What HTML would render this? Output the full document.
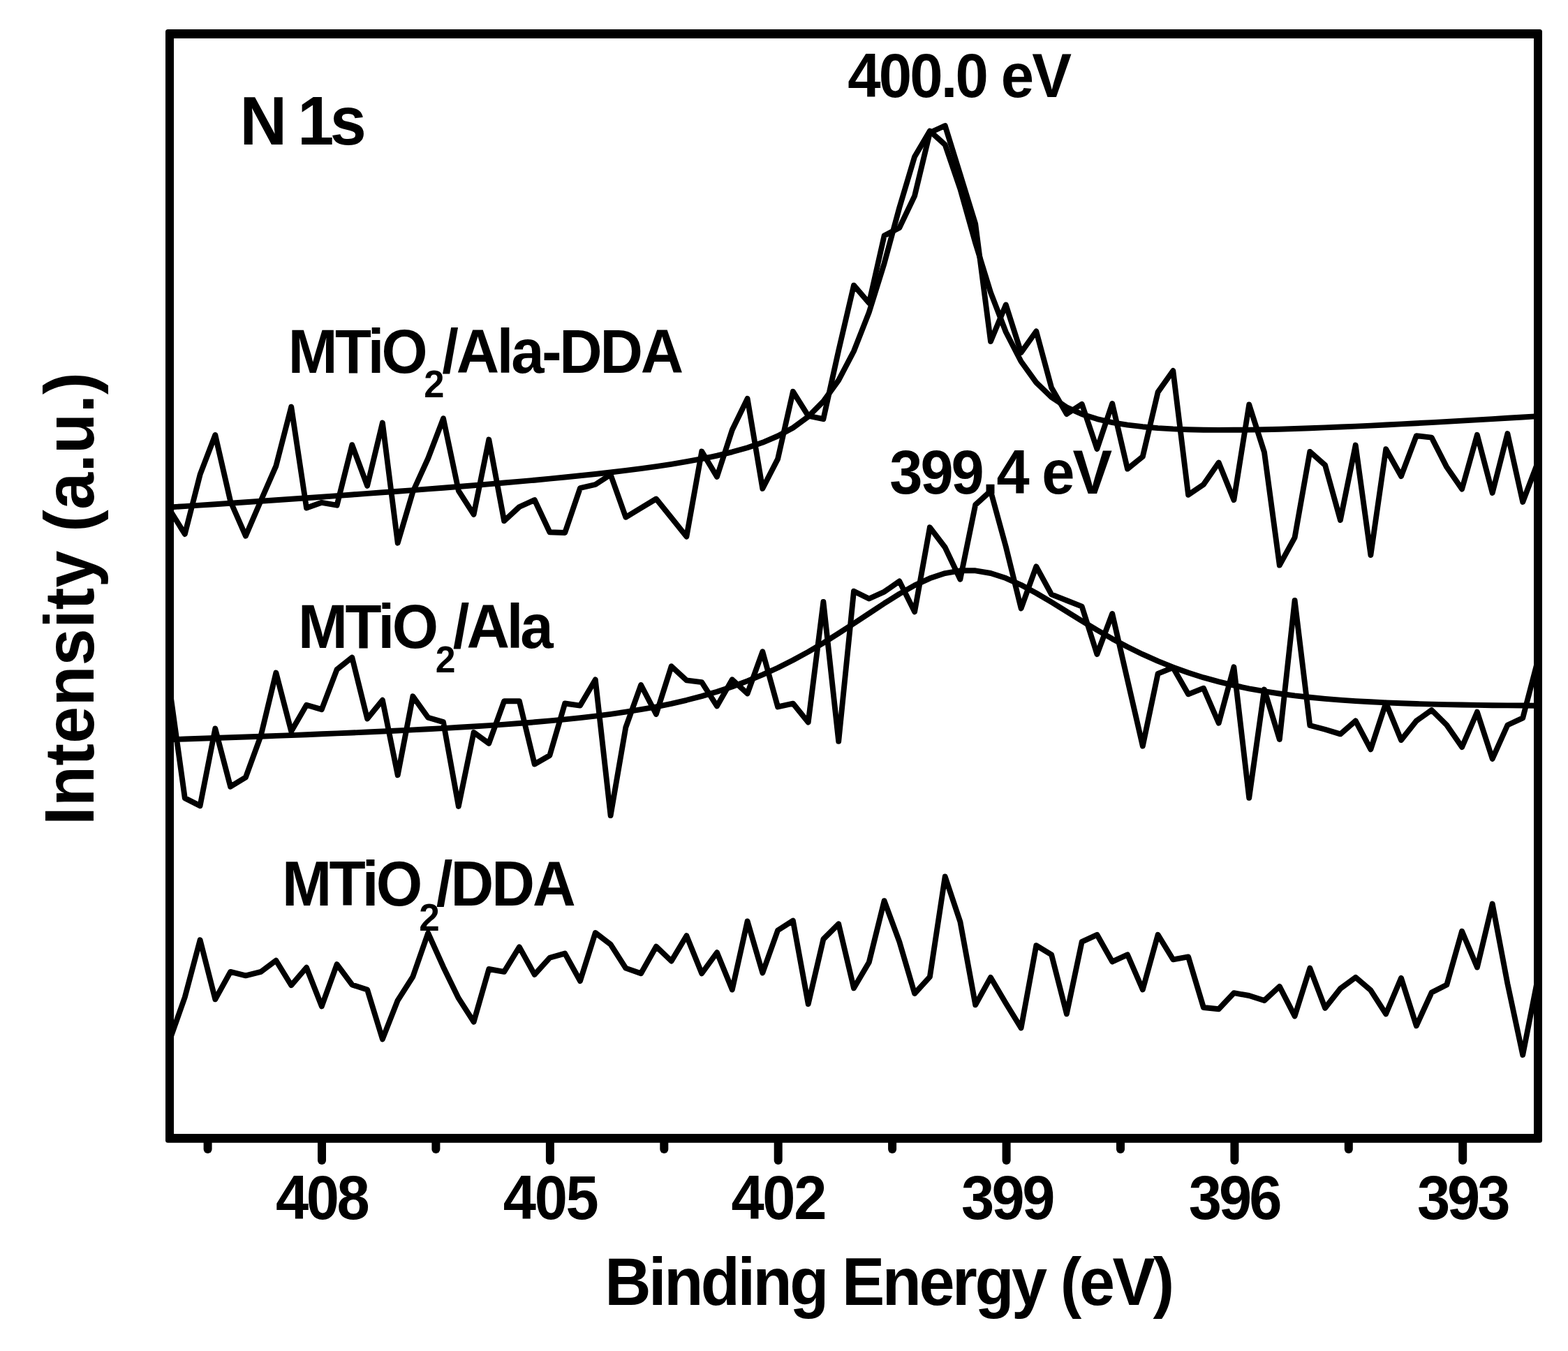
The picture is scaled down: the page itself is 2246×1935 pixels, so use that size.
<!DOCTYPE html><html><head><meta charset="utf-8"><title>N 1s XPS</title><style>html,body{margin:0;padding:0;background:#fff}svg{display:block}</style></head><body>
<svg width="2246" height="1935" viewBox="0 0 2246 1935">
<rect width="2246" height="1935" fill="#fff"/>
<rect x="237" y="42" width="1972" height="1594.7" rx="3.5" fill="#000"/>
<rect x="249" y="55" width="1948" height="1569" fill="#fff"/>
<g fill="none" stroke="#000" stroke-width="7.9" stroke-linejoin="round" stroke-linecap="round">
<polyline points="243.0,730.0 264.8,765.0 286.6,679.7 308.3,623.0 330.1,718.0 351.9,767.7 373.7,717.0 395.4,667.3 417.2,582.7 439.0,727.5 460.8,719.8 482.6,723.7 504.3,637.2 526.1,695.9 547.9,605.5 569.7,777.7 591.4,704.4 613.2,656.5 635.0,599.3 656.8,702.8 678.6,736.8 700.3,629.5 722.1,746.1 743.9,726.0 765.7,716.0 787.4,762.3 809.2,763.0 831.0,699.0 852.8,694.0 874.6,679.8 896.3,740.8 918.1,727.6 939.9,714.5 961.7,741.5 983.4,768.6 1005.2,646.6 1027.0,682.9 1048.8,615.7 1070.6,570.9 1092.3,699.8 1114.1,657.4 1135.9,560.8 1157.7,595.6 1179.4,600.2 1201.2,502.0 1223.0,408.7 1244.8,434.0 1266.6,337.5 1288.3,326.3 1310.1,280.6 1331.9,190.0 1353.7,180.0 1375.4,250.0 1397.2,320.7 1419.0,489.0 1440.8,436.5 1462.6,505.0 1484.3,474.5 1506.1,555.3 1527.9,593.0 1549.7,578.8 1571.4,643.1 1593.2,578.0 1615.0,671.6 1636.8,654.0 1658.6,561.6 1680.3,531.0 1702.1,708.8 1723.9,694.0 1745.7,662.6 1767.4,716.2 1789.2,579.5 1811.0,647.8 1832.8,809.6 1854.6,769.8 1876.3,646.9 1898.1,666.3 1919.9,744.9 1941.7,637.5 1963.4,795.0 1985.2,643.2 2007.0,682.0 2028.8,624.2 2050.6,626.6 2072.3,669.1 2094.1,700.5 2115.9,622.9 2137.7,706.0 2159.4,621.0 2181.2,719.0 2203.0,661.7"/>
<polyline points="243.0,726.5 264.8,725.1 286.6,723.6 308.3,722.2 330.1,720.7 351.9,719.2 373.7,717.7 395.4,716.2 417.2,714.7 439.0,713.2 460.8,711.7 482.6,710.1 504.3,708.5 526.1,706.9 547.9,705.3 569.7,703.7 591.4,702.1 613.2,700.4 635.0,698.7 656.8,697.0 678.6,695.2 700.3,693.4 722.1,691.5 743.9,689.6 765.7,687.7 787.4,685.6 809.2,683.5 831.0,681.3 852.8,679.0 874.6,676.5 896.3,673.9 918.1,671.1 939.9,668.1 961.7,664.8 983.4,661.2 1005.2,657.2 1027.0,652.6 1048.8,647.3 1070.6,641.2 1092.3,633.8 1114.1,624.5 1135.9,612.7 1157.7,596.8 1179.4,574.9 1201.2,544.6 1223.0,503.0 1244.8,447.4 1266.6,377.3 1288.3,297.4 1310.1,224.4 1331.9,187.6 1353.7,207.3 1375.4,270.7 1397.2,348.1 1419.0,418.9 1440.8,475.5 1462.6,517.8 1484.3,547.9 1506.1,568.9 1527.9,583.3 1549.7,593.2 1571.4,600.1 1593.2,605.1 1615.0,608.7 1636.8,611.2 1658.6,613.1 1680.3,614.4 1702.1,615.2 1723.9,615.7 1745.7,615.9 1767.4,615.8 1789.2,615.6 1811.0,615.2 1832.8,614.7 1854.6,614.0 1876.3,613.3 1898.1,612.4 1919.9,611.5 1941.7,610.6 1963.4,609.6 1985.2,608.5 2007.0,607.4 2028.8,606.2 2050.6,605.1 2072.3,603.9 2094.1,602.6 2115.9,601.4 2137.7,600.1 2159.4,598.8 2181.2,597.5 2203.0,596.1"/>
<polyline points="243.0,986.0 264.8,1143.1 286.6,1154.1 308.3,1043.5 330.1,1126.7 351.9,1113.3 373.7,1053.7 395.4,963.5 417.2,1047.5 439.0,1009.8 460.8,1016.1 482.6,958.8 504.3,941.6 526.1,1029.4 547.9,1002.7 569.7,1110.2 591.4,997.3 613.2,1027.8 635.0,1034.1 656.8,1154.9 678.6,1049.0 700.3,1064.7 722.1,1004.3 743.9,1004.3 765.7,1094.5 787.4,1082.0 809.2,1007.5 831.0,1010.6 852.8,973.5 874.6,1168.0 896.3,1041.9 918.1,981.0 939.9,1022.9 961.7,954.3 983.4,974.3 1005.2,977.1 1027.0,1011.4 1048.8,973.3 1070.6,993.3 1092.3,933.3 1114.1,1012.4 1135.9,1007.6 1157.7,1034.5 1179.4,862.0 1201.2,1061.9 1223.0,846.7 1244.8,857.5 1266.6,847.6 1288.3,832.4 1310.1,876.3 1331.9,755.3 1353.7,784.0 1375.4,829.7 1397.2,723.0 1419.0,703.3 1440.8,783.0 1462.6,871.4 1484.3,811.4 1506.1,851.4 1527.9,860.0 1549.7,868.6 1571.4,937.1 1593.2,879.0 1615.0,973.8 1636.8,1068.6 1658.6,964.8 1680.3,956.2 1702.1,994.3 1723.9,985.7 1745.7,1035.7 1767.4,955.2 1789.2,1142.9 1811.0,987.6 1832.8,1059.0 1854.6,860.0 1876.3,1039.0 1898.1,1044.8 1919.9,1051.4 1941.7,1032.4 1963.4,1073.3 1985.2,1006.7 2007.0,1060.0 2028.8,1032.5 2050.6,1017.0 2072.3,1038.5 2094.1,1070.1 2115.9,1019.7 2137.7,1086.9 2159.4,1038.5 2181.2,1028.4 2203.0,945.0"/>
<polyline points="243.0,1059.2 264.8,1058.5 286.6,1057.8 308.3,1057.0 330.1,1056.3 351.9,1055.5 373.7,1054.7 395.4,1053.9 417.2,1053.1 439.0,1052.2 460.8,1051.3 482.6,1050.4 504.3,1049.5 526.1,1048.5 547.9,1047.5 569.7,1046.5 591.4,1045.4 613.2,1044.3 635.0,1043.1 656.8,1041.8 678.6,1040.5 700.3,1039.1 722.1,1037.6 743.9,1036.0 765.7,1034.3 787.4,1032.4 809.2,1030.4 831.0,1028.1 852.8,1025.6 874.6,1022.8 896.3,1019.7 918.1,1016.2 939.9,1012.3 961.7,1007.9 983.4,1002.8 1005.2,997.1 1027.0,990.7 1048.8,983.5 1070.6,975.4 1092.3,966.4 1114.1,956.5 1135.9,945.5 1157.7,933.6 1179.4,920.8 1201.2,907.2 1223.0,893.0 1244.8,878.6 1266.6,864.2 1288.3,850.6 1310.1,838.4 1331.9,828.3 1353.7,821.1 1375.4,817.3 1397.2,817.3 1419.0,821.0 1440.8,828.1 1462.6,837.8 1484.3,849.5 1506.1,862.4 1527.9,875.9 1549.7,889.3 1571.4,902.4 1593.2,914.9 1615.0,926.5 1636.8,937.2 1658.6,946.9 1680.3,955.7 1702.1,963.5 1723.9,970.4 1745.7,976.4 1767.4,981.7 1789.2,986.3 1811.0,990.2 1832.8,993.5 1854.6,996.4 1876.3,998.8 1898.1,1000.9 1919.9,1002.6 1941.7,1004.1 1963.4,1005.3 1985.2,1006.4 2007.0,1007.3 2028.8,1008.0 2050.6,1008.6 2072.3,1009.1 2094.1,1009.5 2115.9,1009.9 2137.7,1010.2 2159.4,1010.4 2181.2,1010.5 2203.0,1010.7"/>
<polyline points="243.0,1490.0 264.8,1428.2 286.6,1346.3 308.3,1431.3 330.1,1391.9 351.9,1397.3 373.7,1391.9 395.4,1375.7 417.2,1411.2 439.0,1385.7 460.8,1441.3 482.6,1381.1 504.3,1410.4 526.1,1417.4 547.9,1488.4 569.7,1432.8 591.4,1398.8 613.2,1336.3 635.0,1384.9 656.8,1429.7 678.6,1463.7 700.3,1388.0 722.1,1391.9 743.9,1356.4 765.7,1395.8 787.4,1371.8 809.2,1365.6 831.0,1405.0 852.8,1336.0 874.6,1352.6 896.3,1386.6 918.1,1394.3 939.9,1355.7 961.7,1376.5 983.4,1340.2 1005.2,1394.3 1027.0,1364.2 1048.8,1417.5 1070.6,1319.4 1092.3,1393.5 1114.1,1332.5 1135.9,1318.6 1157.7,1438.0 1179.4,1345.1 1201.2,1323.4 1223.0,1415.3 1244.8,1378.3 1266.6,1290.2 1288.3,1348.9 1310.1,1423.0 1331.9,1399.1 1353.7,1255.5 1375.4,1320.3 1397.2,1439.3 1419.0,1399.9 1440.8,1437.0 1462.6,1472.4 1484.3,1354.2 1506.1,1367.3 1527.9,1452.3 1549.7,1348.8 1571.4,1338.8 1593.2,1377.4 1615.0,1367.3 1636.8,1417.5 1658.6,1338.8 1680.3,1374.3 1702.1,1370.4 1723.9,1443.0 1745.7,1445.3 1767.4,1422.2 1789.2,1426.0 1811.0,1433.0 1832.8,1412.9 1854.6,1455.4 1876.3,1386.6 1898.1,1443.8 1919.9,1416.0 1941.7,1399.8 1963.4,1418.3 1985.2,1452.3 2007.0,1400.8 2028.8,1469.3 2050.6,1421.6 2072.3,1410.6 2094.1,1333.7 2115.9,1385.5 2137.7,1294.5 2159.4,1409.0 2181.2,1511.0 2203.0,1400.0"/>
</g>
<g stroke="#000" stroke-width="12" stroke-linecap="round"><line x1="297.6" y1="1632" x2="297.6" y2="1646"/><line x1="461.0" y1="1632" x2="461.0" y2="1662"/><line x1="624.4" y1="1632" x2="624.4" y2="1646"/><line x1="787.9" y1="1632" x2="787.9" y2="1662"/><line x1="951.3" y1="1632" x2="951.3" y2="1646"/><line x1="1114.7" y1="1632" x2="1114.7" y2="1662"/><line x1="1278.1" y1="1632" x2="1278.1" y2="1646"/><line x1="1441.6" y1="1632" x2="1441.6" y2="1662"/><line x1="1605.0" y1="1632" x2="1605.0" y2="1646"/><line x1="1768.4" y1="1632" x2="1768.4" y2="1662"/><line x1="1931.8" y1="1632" x2="1931.8" y2="1646"/><line x1="2095.2" y1="1632" x2="2095.2" y2="1662"/></g>
<g style="font-family:'Liberation Sans',Arial,Helvetica,sans-serif;font-weight:bold" fill="#000">
<text transform="translate(343.45 206.90) scale(0.9500 1)"><tspan x="0.00" y="0.00" font-size="98.5" letter-spacing="-5.67">N 1s</tspan></text>
<text transform="translate(1214.20 138.90) scale(0.9500 1)"><tspan x="0.00" y="0.00" font-size="89.7" letter-spacing="-3.05">400.0 eV</tspan></text>
<text transform="translate(1274.20 706.60) scale(0.9500 1)"><tspan x="0.00" y="0.00" font-size="89.4" letter-spacing="-3.18">399.4 eV</tspan></text>
<text transform="translate(412.85 533.80) scale(0.9500 1)"><tspan x="0.00" y="0.00" font-size="89.5" letter-spacing="-3.90">MTiO</tspan><tspan x="204.58" y="35.10" font-size="55.3" letter-spacing="0.00">2</tspan><tspan x="232.00" y="0.00" font-size="89.5" letter-spacing="-3.39">/Ala-DDA</tspan></text>
<text transform="translate(427.03 927.60) scale(0.9500 1)"><tspan x="0.00" y="0.00" font-size="89.7" letter-spacing="-3.63">MTiO</tspan><tspan x="207.00" y="35.10" font-size="54.4" letter-spacing="0.00">2</tspan><tspan x="233.49" y="0.00" font-size="89.7" letter-spacing="-4.33">/Ala</tspan></text>
<text transform="translate(404.01 1297.10) scale(0.9500 1)"><tspan x="0.00" y="0.00" font-size="90.0" letter-spacing="-3.80">MTiO</tspan><tspan x="206.51" y="35.40" font-size="55.9" letter-spacing="0.00">2</tspan><tspan x="232.45" y="0.00" font-size="90.0" letter-spacing="-3.19">/DDA</tspan></text>
<text transform="translate(394.90 1745.90) scale(0.9500 1)"><tspan x="0.00" y="0.00" font-size="89.4" letter-spacing="-3.57">408</tspan></text>
<text transform="translate(720.80 1745.90) scale(0.9500 1)"><tspan x="0.00" y="0.00" font-size="89.4" letter-spacing="-2.52">405</tspan></text>
<text transform="translate(1047.50 1745.90) scale(0.9500 1)"><tspan x="0.00" y="0.00" font-size="89.4" letter-spacing="-2.49">402</tspan></text>
<text transform="translate(1377.00 1745.90) scale(0.9500 1)"><tspan x="0.00" y="0.00" font-size="89.4" letter-spacing="-3.81">399</tspan></text>
<text transform="translate(1702.80 1745.90) scale(0.9500 1)"><tspan x="0.00" y="0.00" font-size="89.4" letter-spacing="-4.23">396</tspan></text>
<text transform="translate(2029.90 1745.90) scale(0.9500 1)"><tspan x="0.00" y="0.00" font-size="89.4" letter-spacing="-4.23">393</tspan></text>
<text transform="translate(866.17 1868.70) scale(0.9500 1)"><tspan x="0.00" y="0.00" font-size="96.7" letter-spacing="-3.62">Binding Energy (eV)</tspan></text>
<text transform="translate(134.00 1181.65) rotate(-90) scale(0.9500 1)" font-size="100.0" letter-spacing="0.32">Intensity (a.u.)</text>
</g></svg></body></html>
